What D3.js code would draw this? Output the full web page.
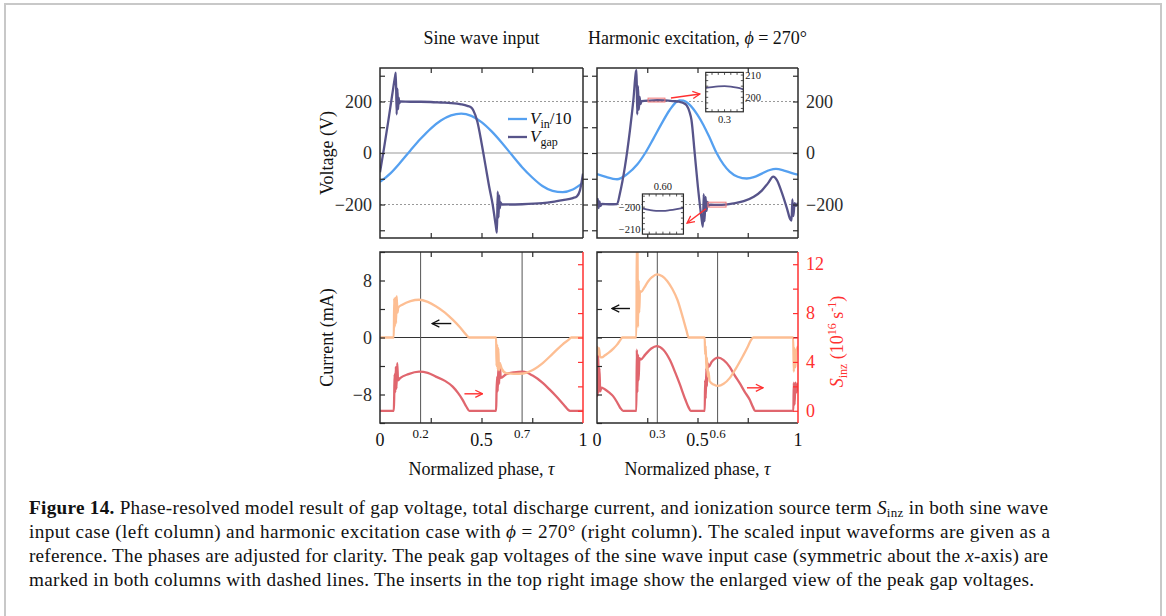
<!DOCTYPE html>
<html lang="en">
<head>
<meta charset="UTF-8" />
<title>Figure 14</title>
<style>
  body { margin: 0; background: #fff; }
  svg { display: block; }
</style>
</head>
<body>
<svg id="fig" width="1166" height="616"></svg>
<script src="https://d3js.org/d3.v7.min.js"></script>
<script>
// ---- data: [tau, value] ----
const vinSine = [[0,-112],[0.05,-80],[0.1,-37],[0.15,10],[0.2,55],[0.25,95],[0.3,126],[0.35,146],[0.4,153],[0.45,144],[0.5,120],[0.55,84],[0.6,40],[0.65,-8],[0.7,-55],[0.75,-95],[0.8,-128],[0.85,-147],[0.9,-152],[0.95,-142],[1,-115]];
const vgapSine = [[0,-75],[0.02,20],[0.04,120],[0.06,225],[0.075,300],[0.078,312],[0.082,150],[0.086,250],[0.089,170],[0.092,215],[0.095,192],[0.1,200],[0.15,199],[0.2,199],[0.25,198],[0.3,196],[0.35,194],[0.4,189],[0.43,183],[0.45,176],[0.46,165],[0.48,120],[0.5,40],[0.52,-50],[0.54,-140],[0.555,-200],[0.57,-280],[0.576,-309],[0.58,-150],[0.584,-250],[0.587,-165],[0.59,-215],[0.594,-192],[0.6,-200],[0.7,-199],[0.8,-195],[0.85,-190],[0.9,-183],[0.95,-175],[0.97,-168],[0.985,-145],[1,-80]];
const vinHarm = [[0,-82],[0.04,-92],[0.1,-102],[0.15,-82],[0.2,-45],[0.24,0],[0.28,55],[0.32,112],[0.36,165],[0.39,195],[0.41,204],[0.43,203],[0.46,188],[0.5,148],[0.53,108],[0.56,60],[0.595,0],[0.63,-45],[0.66,-72],[0.7,-92],[0.745,-99],[0.78,-94],[0.82,-80],[0.86,-66],[0.89,-62],[0.93,-68],[0.97,-78],[1,-84]];
const vgapHarm = [[0,-193],[0.004,-178],[0.008,-214],[0.012,-188],[0.017,-206],[0.024,-198],[0.06,-199],[0.1,-198],[0.114,-157],[0.139,-53],[0.164,89],[0.181,206],[0.194,316],[0.197,322],[0.2,150],[0.204,260],[0.208,168],[0.212,218],[0.216,190],[0.222,201],[0.26,203.5],[0.3,204.7],[0.34,204],[0.38,201.5],[0.41,199],[0.43,194],[0.446,185],[0.46,160],[0.47,128],[0.486,0],[0.502,-131],[0.519,-247],[0.527,-286],[0.531,-160],[0.535,-265],[0.54,-170],[0.545,-225],[0.55,-190],[0.556,-204],[0.565,-200.5],[0.6,-201.7],[0.64,-200.5],[0.68,-196],[0.73,-187],[0.78,-170],[0.82,-146],[0.85,-118],[0.877,-92],[0.895,-105],[0.92,-155],[0.945,-215],[0.962,-258],[0.968,-262],[0.972,-180],[0.977,-245],[0.983,-195],[0.99,-205],[1,-193]];
const peakPos = [[0.255,204.2],[0.27,204.6],[0.285,204.9],[0.3,205],[0.315,204.8],[0.33,204.3],[0.345,203.6]];
const peakNeg = [[0.555,-200.6],[0.57,-201.3],[0.585,-201.7],[0.6,-201.7],[0.615,-201.4],[0.63,-200.9],[0.645,-200.3]];

const curSine = [[0,0],[0.068,0],[0.07,5.5],[0.073,1.5],[0.076,5.6],[0.079,2],[0.082,5.8],[0.086,3.5],[0.09,4.2],[0.11,4.6],[0.15,5.1],[0.193,5.3],[0.235,5.0],[0.275,4.4],[0.32,3.5],[0.358,2.5],[0.395,1.4],[0.424,0.4],[0.44,0],[0.572,0],[0.574,-4],[0.577,-1],[0.58,-4.5],[0.583,-1.5],[0.586,-4.6],[0.59,-3.6],[0.6,-4.4],[0.622,-5.0],[0.66,-5.1],[0.705,-5.05],[0.75,-4.6],[0.803,-3.55],[0.85,-2.3],[0.9,-0.95],[0.93,-0.3],[0.942,0],[1,0]];
const sinzSine = [[0,0],[0.068,0],[0.07,1.2],[0.072,3],[0.075,1.5],[0.078,3.6],[0.081,1.8],[0.085,3.9],[0.089,2.5],[0.099,2.67],[0.14,3.0],[0.193,3.2],[0.235,3.1],[0.275,2.8],[0.32,2.45],[0.358,1.98],[0.385,1.45],[0.407,0.9],[0.425,0.35],[0.44,0],[0.572,0],[0.574,1.5],[0.577,2.8],[0.58,1.6],[0.583,3.6],[0.587,2.2],[0.59,3.9],[0.595,2.7],[0.622,3.0],[0.66,3.15],[0.705,3.2],[0.75,2.9],[0.803,2.26],[0.835,1.75],[0.869,1.17],[0.905,0.5],[0.936,0],[1,0]];
const curHarm = [[0,-1.2],[0.005,-2.4],[0.01,-1.5],[0.015,-2.7],[0.024,-2.8],[0.04,-2.5],[0.06,-2.1],[0.08,-1.6],[0.1,-1.0],[0.115,-0.4],[0.126,0],[0.196,0],[0.198,14],[0.201,14],[0.204,1.5],[0.207,8],[0.21,3.5],[0.214,6.5],[0.22,6.4],[0.235,7.0],[0.255,7.9],[0.275,8.5],[0.297,8.85],[0.325,8.6],[0.35,7.9],[0.375,6.8],[0.4,5.3],[0.43,2.5],[0.445,1],[0.456,0],[0.536,0],[0.538,-2.4],[0.541,-1.2],[0.544,-4.5],[0.547,-2.8],[0.551,-5.5],[0.555,-4.8],[0.56,-6.1],[0.58,-6.6],[0.604,-6.8],[0.63,-6.5],[0.66,-5.7],[0.69,-4.4],[0.726,-2.6],[0.75,-1.3],[0.765,-0.4],[0.778,0],[0.976,0],[0.979,-4.8],[0.983,-1.5],[0.987,-4.2],[0.992,-2],[1,-1.2]];
const sinzHarm = [[0,5.2],[0.003,1.2],[0.006,4.8],[0.009,1.5],[0.012,3.5],[0.016,1.6],[0.022,1.9],[0.035,1.8],[0.06,1.5],[0.08,1.2],[0.1,0.7],[0.115,0.25],[0.13,0],[0.196,0],[0.198,5.0],[0.201,1.5],[0.204,4.6],[0.207,2.5],[0.211,4.3],[0.218,4.2],[0.24,4.6],[0.27,5.1],[0.297,5.3],[0.33,5.0],[0.363,4.15],[0.39,3.1],[0.41,2.26],[0.44,0.9],[0.455,0.3],[0.466,0],[0.536,0],[0.538,2.5],[0.541,1],[0.544,3.5],[0.547,2],[0.55,3.9],[0.556,3.6],[0.57,4.0],[0.604,4.35],[0.63,4.15],[0.66,3.6],[0.685,2.9],[0.71,2.26],[0.735,1.55],[0.76,0.9],[0.776,0.3],[0.786,0],[0.977,0],[0.979,2.3],[0.983,0.5],[0.987,2.3],[0.993,1.5],[1,2.3]];

// ticks and labels
const voltTicks = [-300,-200,-100,0,100,200,300];
const voltLabels = [-200,0,200];
const curTicks = [-12,-8,-4,0,4,8,12];
const curLabels = [-8,0,8];
const sinzTicks = [0,2,4,6,8,10,12];
const sinzLabels = [0,4,8,12];
const tauTicks = [0.25,0.5,0.75];
const tauLabels = [0,0.5,1];
const markSine = [0.2,0.7];
const markHarm = [0.3,0.6];

const serif = '"Liberation Serif", "DejaVu Serif", serif';
const C = { vin: "#55a0f0", vgap: "#57548a", cur: "#fdbe93", sinz: "#e0666e", red: "#ff3030", ink: "#2b2b2b", grid: "#999" };
const fmt = d => d < 0 ? "\u2212" + Math.abs(d) : String(d);

const svg = d3.select("#fig").attr("font-family", serif);

// page frame
svg.append("rect").attr("x", 5).attr("y", 4).attr("width", 1156).attr("height", 660)
  .attr("fill", "none").attr("stroke", "#c8c8c8").attr("stroke-width", 2);

// scales
const xS = d3.scaleLinear().domain([0, 1]).range([380, 583]);
const xH = d3.scaleLinear().domain([0, 1]).range([597, 798]);
const yV = d3.scaleLinear().domain([-330, 330]).range([238, 68]);
const yI = d3.scaleLinear().domain([-12, 12]).range([423, 252]);
const yS = d3.scaleLinear().domain([-1, 13]).range([423, 252]);

const defs = svg.append("defs");
function arrowMarker(id, color) {
  defs.append("marker").attr("id", id).attr("viewBox", "0 0 10 10")
    .attr("refX", 9).attr("refY", 5).attr("markerWidth", 9).attr("markerHeight", 9)
    .attr("markerUnits", "userSpaceOnUse").attr("orient", "auto")
    .append("path").attr("d", "M1,1 L9,5 L1,9").attr("fill", "none")
    .attr("stroke", color).attr("stroke-width", 1.4);
}
arrowMarker("arK", "#111");
arrowMarker("arR", C.red);

function clipped(id, x, y) {
  defs.append("clipPath").attr("id", id).append("rect")
    .attr("x", x.range()[0]).attr("y", y.range()[1])
    .attr("width", x.range()[1] - x.range()[0]).attr("height", y.range()[0] - y.range()[1]);
  return svg.append("g").attr("clip-path", `url(#${id})`);
}

function curve(g, data, x, y, color, w = 2.3) {
  g.append("path").datum(data).attr("fill", "none").attr("stroke", color)
    .attr("stroke-width", w).attr("stroke-linejoin", "round")
    .attr("d", d3.line().x(d => x(d[0])).y(d => y(d[1])).curve(d3.curveMonotoneX));
}

function yAxis(scale, side, xPos, ticks, labels, color) {
  const ax = (side === "left" ? d3.axisLeft(scale) : d3.axisRight(scale))
    .tickValues(ticks).tickSize(-5).tickPadding(8)
    .tickFormat(d => labels.includes(d) ? fmt(d) : "");
  const g = svg.append("g").attr("transform", `translate(${xPos},0)`).call(ax)
    .attr("font-family", serif).attr("font-size", 18);
  g.select(".domain").remove();
  g.selectAll(".tick line").attr("stroke", color).attr("stroke-width", 1.2);
  g.selectAll(".tick text").attr("fill", color);
}

function xTicks(scale, yTop, yBot) {
  [[d3.axisTop(scale), yTop], [d3.axisBottom(scale), yBot]].forEach(([ax, yy]) => {
    const g = svg.append("g").attr("transform", `translate(0,${yy})`)
      .call(ax.tickValues(tauTicks).tickSize(-5).tickFormat(""));
    g.select(".domain").remove();
    g.selectAll(".tick line").attr("stroke", C.ink).attr("stroke-width", 1.2);
  });
}

function frame(x, y, rightColor) {
  const [x0, x1] = x.range(), [y1, y0] = y.range();
  svg.append("path").attr("d", `M${x1},${y0} L${x0},${y0} L${x0},${y1} L${x1},${y1}`)
    .attr("fill", "none").attr("stroke", C.ink).attr("stroke-width", 1.5);
  svg.append("line").attr("x1", x1).attr("x2", x1).attr("y1", y0).attr("y2", y1)
    .attr("stroke", rightColor).attr("stroke-width", 1.5);
}

// ---------- top row: voltage ----------
[[xS, vinSine, vgapSine, "cTL"], [xH, vinHarm, vgapHarm, "cTR"]].forEach(([x, vin, vgap, id]) => {
  const g = clipped(id, x, yV);
  g.append("line").attr("x1", x(0)).attr("x2", x(1)).attr("y1", yV(0)).attr("y2", yV(0))
    .attr("stroke", C.grid).attr("stroke-width", 1);
  [200, -200].forEach(v => g.append("line").attr("x1", x(0)).attr("x2", x(1))
    .attr("y1", yV(v)).attr("y2", yV(v)).attr("stroke", C.grid)
    .attr("stroke-width", 1).attr("stroke-dasharray", "2,2"));
  curve(g, vin, x, yV, C.vin);
  curve(g, vgap, x, yV, C.vgap);
});
yAxis(yV, "left", 380, voltTicks, voltLabels, C.ink);
yAxis(yV, "left", 583, voltTicks, [], C.ink);
yAxis(yV, "right", 597, voltTicks, [], C.ink);
yAxis(yV, "right", 798, voltTicks, voltLabels, C.ink);
xTicks(xS, 68, 238);
xTicks(xH, 68, 238);
frame(xS, yV, C.ink);
frame(xH, yV, C.ink);

// legend (top-left)
const legend = [["V", "in", "/10", C.vin], ["V", "gap", "", C.vgap]];
legend.forEach(([v, sub, tail, col], i) => {
  const yy = 119 + i * 18;
  svg.append("line").attr("x1", 508).attr("x2", 527).attr("y1", yy).attr("y2", yy)
    .attr("stroke", col).attr("stroke-width", 2.3);
  const t = svg.append("text").attr("x", 530).attr("y", yy + 5).attr("font-size", 17).attr("fill", "#111");
  t.append("tspan").attr("font-style", "italic").text(v);
  t.append("tspan").attr("font-size", 12).attr("dy", 4).text(sub);
  if (tail) t.append("tspan").attr("dy", -4).text(tail);
});

// highlight boxes and insets (top-right)
const hiBoxes = [{ tau: [0.254, 0.338], v: [198, 213] }, { tau: [0.552, 0.642], v: [-210, -191] }];
hiBoxes.forEach(b => svg.append("rect").attr("x", xH(b.tau[0])).attr("y", yV(b.v[1]))
  .attr("width", xH(b.tau[1]) - xH(b.tau[0])).attr("height", yV(b.v[0]) - yV(b.v[1]))
  .attr("fill", "rgba(255,110,110,0.08)").attr("stroke", "#f27a7a").attr("stroke-width", 1));
const hiArrows = [[[0.368, 213.6], [0.512, 229]], [[0.542, -217], [0.448, -272]]];
hiArrows.forEach(([a, b]) => svg.append("line").attr("x1", xH(a[0])).attr("y1", yV(a[1]))
  .attr("x2", xH(b[0])).attr("y2", yV(b[1])).attr("stroke", C.red).attr("stroke-width", 1.3)
  .attr("marker-end", "url(#arR)"));

const insets = [
  { id: "inA", tau: [0.541, 0.728], v: [160, 313], xDom: [0.255, 0.345], yDom: [193.5, 211.2], data: peakPos,
    yLab: [200, 210], xLab: 0.3, xText: "0.3", ySide: "right", xSide: "bottom" },
  { id: "inB", tau: [0.226, 0.43], v: [-315, -159], xDom: [0.555, 0.645], yDom: [-212.3, -194], data: peakNeg,
    yLab: [-200, -210], xLab: 0.6, xText: "0.60", ySide: "left", xSide: "top" }
];
insets.forEach(s => {
  const ix = d3.scaleLinear().domain(s.xDom).range([xH(s.tau[0]), xH(s.tau[1])]);
  const iy = d3.scaleLinear().domain(s.yDom).range([yV(s.v[0]), yV(s.v[1])]);
  const [x0, x1] = ix.range(), [y1, y0] = iy.range();
  svg.append("rect").attr("x", x0).attr("y", y0).attr("width", x1 - x0).attr("height", y1 - y0)
    .attr("fill", "#fff");
  const g = clipped(s.id, ix, iy);
  curve(g, s.data, ix, iy, C.vgap, 1.8);
  // inward ticks
  const xt = d3.range(s.xDom[0] + 0.015, s.xDom[1], 0.015);
  const yt = d3.range(Math.ceil(s.yDom[0] / 2.5) * 2.5, s.yDom[1], 2.5);
  xt.forEach(t => { [[y0, 2.5], [y1, -2.5]].forEach(([yy, k]) => svg.append("line")
    .attr("x1", ix(t)).attr("x2", ix(t)).attr("y1", yy).attr("y2", yy + k).attr("stroke", C.ink).attr("stroke-width", 0.8)); });
  yt.forEach(t => { [[x0, 2.5], [x1, -2.5]].forEach(([xx, k]) => svg.append("line")
    .attr("x1", xx).attr("x2", xx + k).attr("y1", iy(t)).attr("y2", iy(t)).attr("stroke", C.ink).attr("stroke-width", 0.8)); });
  svg.append("rect").attr("x", x0).attr("y", y0).attr("width", x1 - x0).attr("height", y1 - y0)
    .attr("fill", "none").attr("stroke", C.ink).attr("stroke-width", 1.2);
  s.yLab.forEach(v => svg.append("text")
    .attr("x", s.ySide === "right" ? x1 + 2 : x0 - 2).attr("y", iy(v) + 3.5)
    .attr("text-anchor", s.ySide === "right" ? "start" : "end").attr("font-size", 10.5).attr("fill", "#222")
    .text(fmt(v)));
  svg.append("text").attr("x", ix(s.xLab)).attr("y", s.xSide === "bottom" ? y1 + 11 : y0 - 4)
    .attr("text-anchor", "middle").attr("font-size", 10.5).attr("fill", "#222").text(s.xText);
});

// ---------- bottom row: current and S_inz ----------
[[xS, curSine, sinzSine, markSine, "cBL"], [xH, curHarm, sinzHarm, markHarm, "cBR"]].forEach(([x, cur, sz, marks, id]) => {
  const g = clipped(id, x, yI);
  g.append("line").attr("x1", x(0)).attr("x2", x(1)).attr("y1", yI(0)).attr("y2", yI(0))
    .attr("stroke", "#333").attr("stroke-width", 1);
  marks.forEach(m => g.append("line").attr("x1", x(m)).attr("x2", x(m))
    .attr("y1", yI.range()[0]).attr("y2", yI.range()[1]).attr("stroke", "#555").attr("stroke-width", 1));
  curve(g, sz, x, yS, C.sinz);
  curve(g, cur, x, yI, C.cur);
});
yAxis(yI, "left", 380, curTicks, curLabels, C.ink);
yAxis(yS, "right", 583, sinzTicks, [], C.red);
yAxis(yI, "left", 597, curTicks, [], C.ink);
yAxis(yS, "right", 798, sinzTicks, sinzLabels, C.red);
xTicks(xS, 252, 423);
xTicks(xH, 252, 423);
frame(xS, yI, C.red);
frame(xH, yI, C.red);

// direction arrows
const dirArrows = [
  { x: xS, y: yI, from: [0.351, 1.96], to: [0.257, 1.96], m: "arK", c: "#111" },
  { x: xS, y: yS, from: [0.416, 1.39], to: [0.505, 1.39], m: "arR", c: C.red },
  { x: xH, y: yI, from: [0.164, 4.07], to: [0.075, 4.07], m: "arK", c: "#111" },
  { x: xH, y: yS, from: [0.746, 1.88], to: [0.826, 1.88], m: "arR", c: C.red }
];
dirArrows.forEach(a => svg.append("line").attr("x1", a.x(a.from[0])).attr("y1", a.y(a.from[1]))
  .attr("x2", a.x(a.to[0])).attr("y2", a.y(a.to[1])).attr("stroke", a.c).attr("stroke-width", 1.4)
  .attr("marker-end", `url(#${a.m})`));

// x tick labels under bottom row
[[xS, markSine], [xH, markHarm]].forEach(([x, marks]) => {
  svg.append("g").selectAll("text").data(tauLabels).join("text")
    .attr("x", d => x(d)).attr("y", 446).attr("text-anchor", "middle")
    .attr("font-size", 18).attr("fill", "#111").text(d => String(d));
  svg.append("g").selectAll("text").data(marks).join("text")
    .attr("x", d => x(d)).attr("y", 438).attr("text-anchor", "middle")
    .attr("font-size", 13).attr("fill", "#111").text(d => String(d));
  svg.append("text").attr("x", x(0.5)).attr("y", 475).attr("text-anchor", "middle")
    .attr("font-size", 18).attr("fill", "#111")
    .call(t => { t.append("tspan").text("Normalized phase, "); t.append("tspan").attr("font-style", "italic").text("\u03c4"); });
});

// column titles
svg.append("text").attr("x", xS(0.5)).attr("y", 44).attr("text-anchor", "middle")
  .attr("font-size", 18).attr("fill", "#111").text("Sine wave input");
svg.append("text").attr("x", xH(0.5)).attr("y", 44).attr("text-anchor", "middle")
  .attr("font-size", 18).attr("fill", "#111")
  .call(t => {
    t.append("tspan").text("Harmonic excitation, ");
    t.append("tspan").attr("font-style", "italic").text("\u03d5");
    t.append("tspan").text(" = 270\u00b0");
  });

// y titles
svg.append("text").attr("transform", `translate(333,${yV(0)}) rotate(-90)`).attr("text-anchor", "middle")
  .attr("font-size", 18).attr("fill", "#111").text("Voltage (V)");
svg.append("text").attr("transform", `translate(333,${yI(0)}) rotate(-90)`).attr("text-anchor", "middle")
  .attr("font-size", 18).attr("fill", "#111").text("Current (mA)");
svg.append("text").attr("transform", `translate(843,${yI(0) + 4}) rotate(-90)`).attr("text-anchor", "middle")
  .attr("font-size", 18).attr("fill", C.red)
  .call(t => {
    t.append("tspan").attr("font-style", "italic").text("S");
    t.append("tspan").attr("font-size", 12).attr("dy", 4).text("inz");
    t.append("tspan").attr("dy", -4).text(" (10");
    t.append("tspan").attr("font-size", 12).attr("dy", -7).text("16");
    t.append("tspan").attr("dy", 7).text(" s");
    t.append("tspan").attr("font-size", 12).attr("dy", -7).text("-1");
    t.append("tspan").attr("dy", 7).text(")");
  });

// caption
const captionLines = [
  [["b", "Figure 14."], ["", " Phase-resolved model result of gap voltage, total discharge current, and ionization source term "], ["i", "S"], ["sub", "inz"], ["", " in both sine wave"]],
  [["", "input case (left column) and harmonic excitation case with "], ["i", "\u03d5"], ["", " = 270\u00b0 (right column). The scaled input waveforms are given as a"]],
  [["", "reference. The phases are adjusted for clarity. The peak gap voltages of the sine wave input case (symmetric about the "], ["i", "x"], ["", "-axis) are"]],
  [["", "marked in both columns with dashed lines. The inserts in the top right image show the enlarged view of the peak gap voltages."]]
];
const captionWidths = [1019, 1021, 1019, 1005];
captionLines.forEach((parts, i) => {
  const t = svg.append("text").attr("x", 29).attr("y", 514 + i * 24)
    .attr("font-size", 19.2).attr("fill", "#111")
    .attr("textLength", captionWidths[i]).attr("lengthAdjust", "spacing");
  let shifted = false;
  parts.forEach(([k, s]) => {
    const sp = t.append("tspan").text(s);
    if (k === "b") sp.attr("font-weight", "bold");
    if (k === "i") sp.attr("font-style", "italic");
    if (k === "sub") { sp.attr("font-size", 13).attr("dy", 3); shifted = true; }
    else if (shifted) { sp.attr("dy", -3); shifted = false; }
  });
});
</script>
</body>
</html>
